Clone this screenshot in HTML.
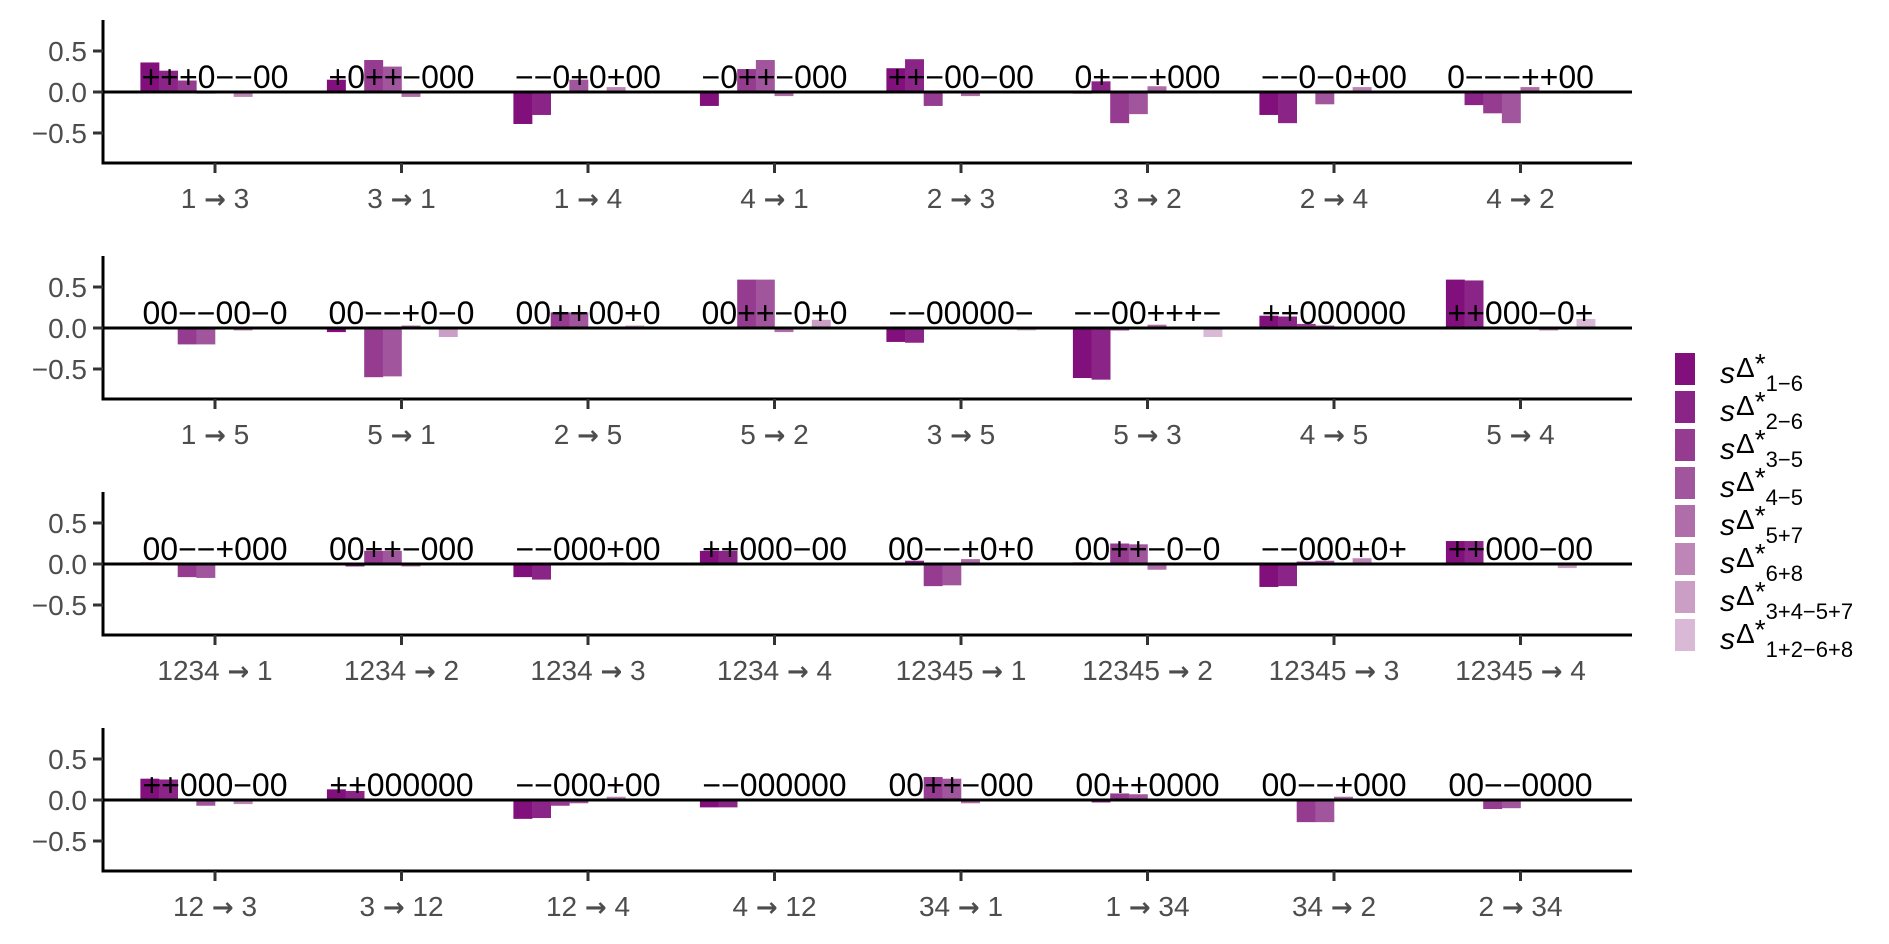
<!DOCTYPE html>
<html><head><meta charset="utf-8">
<style>
html,body{margin:0;padding:0;background:#fff;}
svg{display:block;font-family:"Liberation Sans",sans-serif;}
</style></head>
<body>
<svg id="chart" width="1889" height="944" viewBox="0 0 1889 944" xmlns="http://www.w3.org/2000/svg">
<g id="panels"></g>
<g id="legend"></g>
</svg>
<script>
const categories = [
 ["1 → 3","3 → 1","1 → 4","4 → 1","2 → 3","3 → 2","2 → 4","4 → 2"],
 ["1 → 5","5 → 1","2 → 5","5 → 2","3 → 5","5 → 3","4 → 5","5 → 4"],
 ["1234 → 1","1234 → 2","1234 → 3","1234 → 4","12345 → 1","12345 → 2","12345 → 3","12345 → 4"],
 ["12 → 3","3 → 12","12 → 4","4 → 12","34 → 1","1 → 34","34 → 2","2 → 34"]
];
const seriesNames = ["1−6","2−6","3−5","4−5","5+7","6+8","3+4−5+7","1+2−6+8"];
const seriesColors = ["#810f7c","#8a2587","#953c91","#a1559c","#af6ea9","#bd86b6","#cb9fc5","#d9b9d5"];
const panel1Values = [
 [0.36,0.26,0.14,-0.02,-0.01,-0.06,0,0],
 [0.15,0.01,0.39,0.31,-0.06,0,0,0.01],
 [-0.39,-0.28,0,0.15,-0.01,0.06,0,0],
 [-0.17,0.01,0.28,0.39,-0.05,-0.01,0,0],
 [0.29,0.40,-0.17,-0.01,-0.05,0,0,0],
 [-0.02,0.13,-0.38,-0.27,0.07,-0.01,0,0],
 [-0.28,-0.38,-0.01,-0.15,0,0.06,0,0],
 [0.01,-0.16,-0.26,-0.38,0.06,0.01,0,0]
];
const panel2Values = [
 [0.01,0,-0.20,-0.20,0.01,-0.03,0,0],
 [-0.05,0.01,-0.60,-0.59,0.03,0,-0.11,0],
 [0.01,0,0.19,0.19,0,0.01,0.03,0],
 [0.01,0.01,0.59,0.59,-0.05,0,0.10,0],
 [-0.17,-0.18,0.01,0.01,0.01,0.01,0,-0.03],
 [-0.61,-0.63,-0.03,0.01,0.04,0.01,0,-0.11],
 [0.15,0.14,0.05,0.03,0,-0.01,0,0],
 [0.59,0.58,0.01,0,0,-0.03,0,0.11]
];
const panel3Values = [
 [0.02,0.01,-0.16,-0.17,0.01,0,0,0],
 [0.01,-0.03,0.16,0.16,-0.03,0,0,0],
 [-0.16,-0.19,0.01,0,0,0.02,0,0],
 [0.16,0.16,0.01,0,0,-0.01,0,0],
 [0.01,0.04,-0.27,-0.26,0.06,0.01,0.01,0],
 [0.02,0.01,0.25,0.24,-0.07,0,-0.01,0],
 [-0.28,-0.27,0.03,0.04,0,0.07,0.01,0],
 [0.28,0.28,0,0,0,-0.01,-0.05,-0.01]
];
const panel4Values = [
 [0.26,0.25,-0.01,-0.07,0,-0.05,0,0],
 [0.13,0.11,0.01,0.01,0,-0.01,0,0],
 [-0.23,-0.22,-0.07,-0.04,0,0.04,0,0],
 [-0.09,-0.09,-0.01,-0.01,0,-0.01,0,0],
 [0.01,0.01,0.28,0.26,-0.04,0,0,0],
 [0.01,-0.03,0.08,0.07,0.01,0,0,0],
 [0,0,-0.27,-0.27,0.04,0.01,0,-0.01],
 [0.01,0.01,-0.11,-0.10,0,0.01,0,0]
];
const panelValues = [panel1Values,panel2Values,panel3Values,panel4Values];
const signLabels = [
 ["+++0−−00","+0++−000","−−0+0+00","−0++−000","++−00−00","0+−−+000","−−0−0+00","0−−−++00"],
 ["00−−00−0","00−−+0−0","00++00+0","00++−0+0","−−00000−","−−00+++−","++000000","++000−0+"],
 ["00−−+000","00++−000","−−000+00","++000−00","00−−+0+0","00++−0−0","−−000+0+","++000−00"],
 ["++000−00","++000000","−−000+00","−−000000","00++−000","00++0000","00−−+000","00−−0000"]
];
const yTicks = [0.5,0,-0.5];
const yTickLabels = ["0.5","0.0","−0.5"];

const NS="http://www.w3.org/2000/svg";
function mk(tag,attrs,parent){const e=document.createElementNS(NS,tag);for(const k in attrs)e.setAttribute(k,attrs[k]);parent.appendChild(e);return e;}
const panelsG=document.getElementById('panels');
const X0=103, X1=1632, CAT0=215, CATSTEP=186.5, BARW=CATSTEP*0.8/8;
function xCat(i){return CAT0+i*CATSTEP;}
function yScale(p,v){const zero=92+p*236;return zero-v*82;}

panelValues.forEach((vals,p)=>{
  const g=mk('g',{},panelsG);
  
  
  const top=20+p*236, bottom=163+p*236, zero=yScale(p,0);
  vals.forEach((row,ci)=>{
    row.forEach((v,si)=>{
      const x=xCat(ci)-CATSTEP*0.4+si*BARW;
      const y1=yScale(p,v);
      const r=mk('rect',{x:x.toFixed(2),y:Math.min(y1,zero).toFixed(2),width:(BARW+0.3).toFixed(2),height:Math.max(Math.abs(y1-zero),0.6).toFixed(2),fill:seriesColors[si]},g);
      
      
    });
  });
  const zl=mk('line',{x1:X0,x2:X1,y1:zero,y2:zero,stroke:'#000','stroke-width':3},g);
  
  
  signLabels[p].forEach((s,ci)=>{
    const t=mk('text',{x:xCat(ci),y:zero-4,'text-anchor':'middle','font-size':32,fill:'#000'},g);
    t.textContent=s;
    
    
  });
  const ya=mk('line',{x1:X0,x2:X0,y1:top,y2:bottom+1.5,stroke:'#000','stroke-width':3},g);
  
  
  const xa=mk('line',{x1:X0-1.5,x2:X1,y1:bottom,y2:bottom,stroke:'#000','stroke-width':3},g);
  
  
  yTicks.forEach((v,i)=>{
    const y=yScale(p,v);
    mk('line',{x1:X0-10,x2:X0,y1:y,y2:y,stroke:'#333','stroke-width':3},g);
    const t=mk('text',{x:X0-16,y:y+10,'text-anchor':'end','font-size':28,fill:'#4d4d4d'},g);
    t.textContent=yTickLabels[i];
    
    
  });
  categories[p].forEach((c,ci)=>{
    const x=xCat(ci);
    mk('line',{x1:x,x2:x,y1:bottom,y2:bottom+10,stroke:'#333','stroke-width':3},g);
    const t=mk('text',{x:x,y:bottom+45,'text-anchor':'middle','font-size':28,fill:'#4d4d4d'},g);
    
    
    const parts=c.split('→');
    const a=mk('tspan',{},t); a.textContent=parts[0];
    const b=mk('tspan',{'font-family':'DejaVu Sans','font-weight':'bold','font-size':26},t); b.textContent='→';
    const d=mk('tspan',{},t); d.textContent=parts[1];
  });
});

const lg=document.getElementById('legend');
seriesNames.forEach((n,i)=>{
  const y=353+i*38;
  const r=mk('rect',{x:1675,y:y,width:20,height:32,fill:seriesColors[i]},lg);
  
  
  const t=mk('text',{x:1720,y:y+30,'font-size':24,fill:'#000'},lg);
  
  
  const s1=mk('tspan',{'font-style':'italic','font-size':30},t); s1.textContent='s';
  const s2=mk('tspan',{'font-size':28,dy:-6,dx:1},t); s2.textContent='Δ';
  const s3=mk('tspan',{'font-size':28,dy:-4},t); s3.textContent='*';
  const s4=mk('tspan',{'font-size':22,dy:18},t); s4.textContent=n;
});
</script>
</body></html>
